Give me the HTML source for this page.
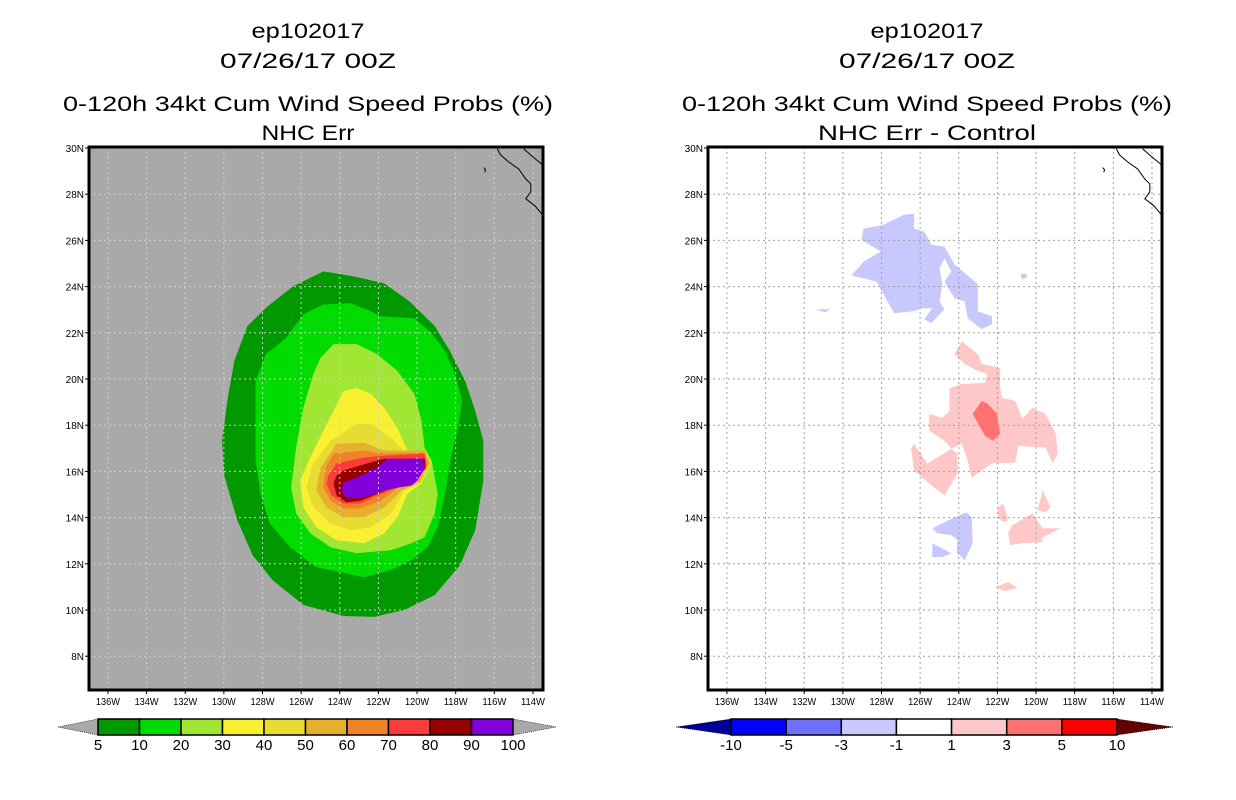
<!DOCTYPE html>
<html><head><meta charset="utf-8"><style>
html,body{margin:0;padding:0;background:#fff;}
svg{display:block;font-family:"Liberation Sans",sans-serif;}
</style></head><body>
<svg id="chart" width="1236" height="800" viewBox="0 0 1236 800">
<g id="left"></g>
<g id="right"></g>
</svg>
<script>
// ---- data (lon in degrees W, lat in degrees N) ----
const lonTicks = [136,134,132,130,128,126,124,122,120,118,116,114];
const latTicks = [30,28,26,24,22,20,18,16,14,12,10,8];
const probLevels = ["5","10","20","30","40","50","60","70","80","90","100"];
const probColors = ["#009900","#00dc00","#a0e632","#faf032","#e6dc32","#e6af2d","#f08228","#fa3c3c","#960000","#8200dc"];
const diffLevels = ["-10","-5","-3","-1","1","3","5","10"];
const diffColors = ["#0000ff","#7070ff","#c8c8ff","#ffffff","#ffc8c8","#ff7070","#ff0000"];
const p5Lon=[124.85,123.28,121.70,120.39,119.08,118.30,117.51,116.99,116.57,116.57,116.99,117.78,119.08,120.66,122.23,123.80,125.89,127.47,128.51,129.30,129.98,130.09,129.82,129.46,128.78,127.73,126.42];
const p5Lat=[24.66,24.44,24.14,23.36,22.29,21.21,19.91,18.62,17.33,15.60,13.45,11.94,10.65,10.00,9.70,9.74,10.22,11.29,12.37,13.88,15.82,17.33,19.05,20.78,22.29,23.15,24.01];
const p10Lon=[124.85,123.43,122.39,121.86,120.13,119.24,118.56,118.04,117.67,117.88,118.20,118.56,118.93,119.45,120.29,121.34,122.75,123.96,125.21,126.58,127.62,128.10,128.36,128.36,128.36,127.83,126.79,125.89];
const p10Lat=[23.23,23.28,22.93,22.72,22.63,21.98,21.21,20.22,19.05,17.89,16.77,15.04,13.58,12.72,12.16,11.73,11.42,11.64,11.85,12.72,13.75,15.04,16.47,18.32,19.91,21.08,21.77,22.80];
const p20Lon=[125.00,124.32,123.12,122.07,121.02,120.13,119.77,119.61,119.24,118.93,119.08,119.61,120.29,121.34,123.12,124.48,125.53,126.26,126.52,126.26,125.89,125.37];
const p20Lat=[20.91,21.51,21.51,21.08,20.35,19.35,18.19,17.03,16.47,15.04,14.18,13.15,12.89,12.59,12.46,12.72,13.32,14.18,15.30,17.03,18.75,20.22];
const p30Lon=[123.80,123.12,122.39,121.70,121.02,120.50,119.61,119.24,119.77,120.50,121.02,121.70,122.75,124.17,125.21,125.89,126.05,125.53,124.85,124.32];
const p30Lat=[19.48,19.61,19.35,18.75,17.89,16.90,16.90,16.34,15.48,15.04,14.01,13.32,12.89,13.02,13.58,14.44,15.60,16.60,17.76,18.62];
const p40Lon=[123.12,122.39,121.34,120.66,119.61,119.24,119.77,120.66,121.34,122.39,123.43,124.48,125.37,125.74,125.37,124.48];
const p40Lat=[18.06,18.06,17.46,16.90,16.90,16.34,15.52,15.17,14.18,13.58,13.45,13.75,14.44,15.30,16.34,17.33];
const p50Lon=[124.17,122.75,121.70,119.61,119.35,119.87,120.81,121.70,122.75,123.80,124.69,125.21,125.00];
const p50Lat=[17.20,17.24,16.90,16.90,16.34,15.52,15.17,14.44,14.01,14.01,14.44,15.17,16.16];
const p60Lon=[124.32,122.75,121.70,119.61,119.45,119.98,121.02,121.86,122.91,123.80,124.48,124.85,124.74];
const p60Lat=[16.77,16.90,16.77,16.81,16.34,15.60,15.26,14.74,14.40,14.40,14.74,15.30,16.16];
const p70Lon=[124.17,122.75,121.70,119.61,119.51,120.03,121.02,122.07,122.91,123.80,124.43,124.69,124.59];
const p70Lat=[16.34,16.60,16.68,16.77,16.25,15.69,15.30,14.96,14.61,14.61,14.96,15.48,15.82];
const p80Lon=[123.80,122.60,121.70,119.61,119.56,120.13,121.02,121.86,122.91,123.64,124.17,124.32,124.17];
const p80Lat=[16.04,16.34,16.55,16.55,16.12,15.69,15.39,15.09,14.74,14.66,14.96,15.48,15.82];
const p90Lon=[123.80,123.12,122.07,121.55,119.71,119.61,119.98,120.29,121.02,121.70,122.39,123.12,123.70,123.90];
const p90Lat=[15.52,15.73,16.16,16.55,16.55,16.12,15.60,15.39,15.30,15.17,14.96,14.83,14.87,15.17];
// difference blobs
const dBlueALon=[128.93,127.89,126.84,126.31,126.31,125.79,125.42,124.74,124.22,123.01,123.01,122.28,122.28,122.81,123.54,123.70,124.22,124.74,124.38,124.74,125.00,124.85,125.00,124.74,125.42,125.79,125.37,125.90,126.31,127.36,128.25,129.56,128.93,128.04,129.04];
const dBlueALat=[26.51,26.68,27.11,27.16,26.51,26.38,25.82,25.73,24.96,24.10,22.93,22.72,22.37,22.16,22.63,23.36,23.49,24.22,24.66,25.22,24.79,24.10,23.36,23.02,22.41,22.59,23.06,23.06,22.93,22.85,24.22,24.48,25.08,25.52,26.03];
const dBlueBLon=[125.37,124.22,123.59,123.33,123.28,123.70,124.11,124.06,124.38,125.11];
const dBlueBLat=[13.54,14.01,14.23,14.01,12.89,12.16,12.50,13.02,13.24,13.32];
const dBlueCLon=[125.37,124.38,124.85,125.37];
const dBlueCLat=[12.89,12.46,12.29,12.29];
const dBlueDLon=[131.40,130.66,130.92];
const dBlueDLat=[23.02,23.02,22.89];
const dBlueELon=[120.81,120.55,120.45,120.71];
const dBlueELat=[24.53,24.57,24.44,24.31];
const dPinkALon=[123.85,123.01,122.81,121.86,121.86,121.76,121.08,120.71,120.19,119.51,118.98,118.88,119.14,119.51,120.92,121.08,122.28,123.33,123.54,123.85,124.38,124.74,125.53,125.53,124.85,124.48,124.48,123.85,122.65,122.54,123.01,123.70,124.22];
const dPinkALat=[21.64,21.08,20.65,20.47,19.61,19.18,19.05,18.28,18.75,18.49,17.63,16.77,16.34,17.03,17.11,16.38,16.34,15.73,16.47,17.20,16.98,17.33,17.76,18.49,18.32,18.62,19.61,19.79,19.83,20.22,20.35,20.65,21.08];
const dPinkBLon=[126.31,125.63,125.11,124.38,124.06,124.06,124.74,125.27,126.31,126.47];
const dPinkBLat=[17.20,16.34,16.60,16.98,16.77,15.91,14.96,15.30,16.04,16.98];
const dPinkCLon=[121.44,121.23,120.19,119.66,118.72,119.66,119.66,120.71,121.34];
const dPinkCLat=[13.32,13.67,14.18,13.54,13.54,13.15,12.94,12.89,12.81];
const dPinkDLon=[121.97,121.70,121.44,121.70,121.97];
const dPinkDLat=[14.44,14.61,13.88,13.80,14.01];
const dPinkELon=[119.92,119.66,119.24,119.51];
const dPinkELat=[14.31,15.17,14.44,14.23];
const dPinkFLon=[122.12,121.44,120.97,121.60];
const dPinkFLat=[11.00,11.21,10.95,10.82];
const dSalmonLon=[122.81,122.49,122.02,121.86,122.23,122.65,123.28];
const dSalmonLat=[19.05,18.92,18.49,17.63,17.33,17.54,18.49];
const coastALon=[115.84,115.68,115.26,114.74,114.37,114.11,114.11,114.37,113.90,113.40];
const coastALat=[29.96,29.70,29.40,29.09,28.66,28.45,28.10,27.80,27.50,27.00];
const coastBLon=[114.48,114.00,113.69,113.40];
const coastBLat=[29.96,29.61,29.40,29.20];
const islandLon=[116.55,116.45,116.50];
const islandLat=[29.15,29.05,28.95];

// ---- geometry ----
const NS="http://www.w3.org/2000/svg";
const FX0=89, FX1=543, FY0=147, FY1=690;
const LON_W=136.98, PXDEG=19.32, LAT_T=30, Y30=148, PYDEG=23.1;
function X(lon,off){return off+FX0+(LON_W-lon)*PXDEG;}
function Y(lat){return Y30+(LAT_T-lat)*PYDEG;}
function mk(tag,attrs,parent){const e=document.createElementNS(NS,tag);for(const k in attrs)e.setAttribute(k,attrs[k]);parent.appendChild(e);return e;}
function pts(lons,lats,off){return lons.map((l,i)=>X(l,off).toFixed(1)+","+Y(lats[i]).toFixed(1)).join(" ");}

function poly(g,lons,lats,off,fill,name){
  const p=mk('polygon',{points:pts(lons,lats,off),fill:fill},g);
  
  
}
function txt(g,x,y,s,size,anchor,len,name){
  const t=mk('text',{x:x,y:y,'font-size':size,'text-anchor':anchor,fill:'#000'},g);
  if(len){t.setAttribute('textLength',len);t.setAttribute('lengthAdjust','spacingAndGlyphs');}
  t.textContent=s;
  
  
  return t;
}

function panel(g,off,bg,sub,subLen){
  const cx=off+308;
  txt(g,cx,38,"ep102017",21,"middle",113,"storm-id-title");
  txt(g,cx,68,"07/26/17 00Z",21,"middle",176,"date-title");
  txt(g,cx,111,"0-120h 34kt Cum Wind Speed Probs (%)",21,"middle",490,"main-title");
  txt(g,cx,140,sub,21,"middle",subLen,"sub-title");
  const clipId="clip"+off;
  const cp=mk('clipPath',{id:clipId},g);
  mk('rect',{x:off+FX0,y:FY0,width:FX1-FX0,height:FY1-FY0},cp);
  const bgr=mk('rect',{x:off+FX0,y:FY0,width:FX1-FX0,height:FY1-FY0,fill:bg},g);
  
  
  const m=mk('g',{'clip-path':'url(#'+clipId+')'},g);
  
  
  return m;
}
function decorate(g,m,off,gridColor){
  lonTicks.forEach(l=>{
    const x=X(l,off);
    const gl=mk('line',{x1:x,x2:x,y1:FY0,y2:FY1,stroke:gridColor,'stroke-width':1,'stroke-dasharray':'2,3'},m);
    
    
    mk('line',{x1:x,x2:x,y1:FY1,y2:FY1+4,stroke:'#000'},g);
    txt(g,x,FY1+15,l+"W",10,"middle",24,"lon-tick-label");
  });
  latTicks.forEach(l=>{
    const y=Y(l);
    if(l<30){
      const gl=mk('line',{x1:off+FX0,x2:off+FX1,y1:y,y2:y,stroke:gridColor,'stroke-width':1,'stroke-dasharray':'2,3'},m);
      
      
    }
    mk('line',{x1:off+FX0-4,x2:off+FX0,y1:y,y2:y,stroke:'#000'},g);
    txt(g,off+FX0-5,y+4,l+"N",10,"end",null,"lat-tick-label");
  });
  [[coastALon,coastALat],[coastBLon,coastBLat],[islandLon,islandLat]].forEach(c=>{
    const pl=mk('polyline',{points:pts(c[0],c[1],off),fill:'none',stroke:'#000','stroke-width':1},m);
    
    
  });
  const fr=mk('rect',{x:off+FX0,y:FY0,width:FX1-FX0,height:FY1-FY0,fill:'none',stroke:'#000','stroke-width':3},g);
  
  
}
function colorbar(g,x0,x1,boxes,colors,leftTip,rightTip,tipL,tipR,labels,name){
  const cb=mk('g',{},g);
  
  
  const y0=719,y1=735,ym=727,w=(x1-x0)/boxes;
  const t1=mk('polygon',{points:`${leftTip},${ym} ${x0},${y0} ${x0},${y1}`,fill:tipL,stroke:'#000','stroke-width':0.6,'stroke-dasharray':'1,1'},cb);
  
  
  const t2=mk('polygon',{points:`${rightTip},${ym} ${x1},${y0} ${x1},${y1}`,fill:tipR,stroke:'#000','stroke-width':0.6,'stroke-dasharray':'1,1'},cb);
  
  
  colors.forEach((c,i)=>{
    const r=mk('rect',{x:x0+i*w,y:y0,width:w,height:y1-y0,fill:c,stroke:'#000','stroke-width':1.5},cb);
    
    
  });
  labels.forEach((s,i)=>{txt(cb,x0+i*w,750,s,15,"middle",null,"colorbar-label");});
}

// left panel
const L=document.getElementById('left');
const mL=panel(L,0,'#a9a9a9',"NHC Err",93);
const probPolys=[[p5Lon,p5Lat],[p10Lon,p10Lat],[p20Lon,p20Lat],[p30Lon,p30Lat],[p40Lon,p40Lat],[p50Lon,p50Lat],[p60Lon,p60Lat],[p70Lon,p70Lat],[p80Lon,p80Lat],[p90Lon,p90Lat]];
probPolys.forEach((p,i)=>poly(mL,p[0],p[1],0,probColors[i],'prob-contour-'+probLevels[i]));
decorate(L,mL,0,'#d0d0d0');
colorbar(L,98,513,10,probColors,58,556,'#a9a9a9','#a9a9a9',probLevels,'prob-colorbar');

// right panel
const OFF=619;
const R=document.getElementById('right');
const mR=panel(R,OFF,'#ffffff',"NHC Err - Control",218);
const blue=diffColors[2], pink=diffColors[4], salmon=diffColors[5];
[[dBlueALon,dBlueALat],[dBlueBLon,dBlueBLat],[dBlueCLon,dBlueCLat],[dBlueDLon,dBlueDLat],[dBlueELon,dBlueELat]].forEach(p=>poly(mR,p[0],p[1],OFF,blue,'negative-diff-area'));
[[dPinkALon,dPinkALat],[dPinkBLon,dPinkBLat],[dPinkCLon,dPinkCLat],[dPinkDLon,dPinkDLat],[dPinkELon,dPinkELat],[dPinkFLon,dPinkFLat]].forEach(p=>poly(mR,p[0],p[1],OFF,pink,'positive-diff-area'));
poly(mR,dSalmonLon,dSalmonLat,OFF,salmon,'strong-positive-diff-area');
decorate(R,mR,OFF,'#a0a0a0');
colorbar(R,731,1117,7,diffColors,676,1173,'#000096','#640000',diffLevels,'diff-colorbar');
</script>
</body></html>
